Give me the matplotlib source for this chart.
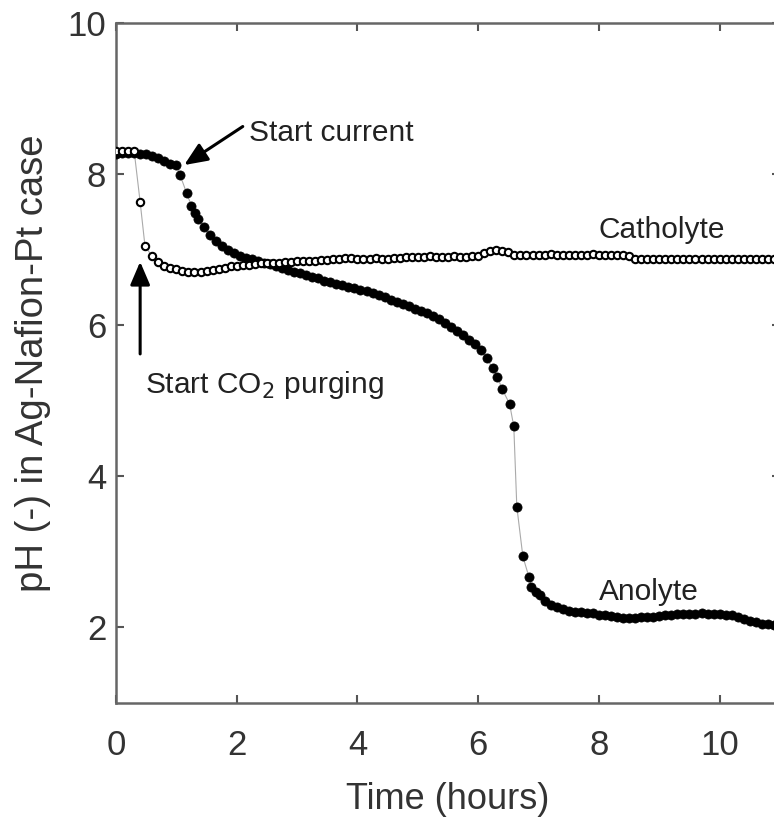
import matplotlib
matplotlib.use("Agg")
import matplotlib.pyplot as plt

plt.rcParams['font.family'] = ['Liberation Sans', 'DejaVu Sans']

# Catholyte (open circles)
cath_t = [0.0, 0.1, 0.2, 0.3, 0.4, 0.48, 0.6, 0.7, 0.8, 0.9, 1.0, 1.1, 1.2, 1.3, 1.4,
          1.5, 1.6, 1.7, 1.8, 1.9, 2.0, 2.1, 2.2, 2.3, 2.4, 2.5, 2.6, 2.7, 2.8, 2.9,
          3.0, 3.1, 3.2, 3.3, 3.4, 3.5, 3.6, 3.7, 3.8, 3.9, 4.0, 4.1, 4.2, 4.3, 4.4,
          4.5, 4.6, 4.7, 4.8, 4.9, 5.0, 5.1, 5.2, 5.3, 5.4, 5.5, 5.6, 5.7, 5.8, 5.9,
          6.0, 6.1, 6.2, 6.3, 6.4, 6.5, 6.6, 6.7, 6.8, 6.9, 7.0, 7.1, 7.2, 7.3, 7.4,
          7.5, 7.6, 7.7, 7.8, 7.9, 8.0, 8.1, 8.2, 8.3, 8.4, 8.5, 8.6, 8.7, 8.8, 8.9,
          9.0, 9.1, 9.2, 9.3, 9.4, 9.5, 9.6, 9.7, 9.8, 9.9, 10.0, 10.1, 10.2, 10.3,
          10.4, 10.5, 10.6, 10.7, 10.8, 10.9, 11.0]
cath_ph = [8.30, 8.31, 8.30, 8.31, 7.63, 7.05, 6.91, 6.84, 6.79, 6.76, 6.74, 6.72, 6.70, 6.70, 6.71,
           6.72, 6.73, 6.75, 6.76, 6.78, 6.79, 6.80, 6.80, 6.81, 6.82, 6.82, 6.83, 6.83, 6.84, 6.84,
           6.85, 6.85, 6.85, 6.85, 6.86, 6.86, 6.87, 6.88, 6.89, 6.89, 6.88, 6.88, 6.88, 6.89, 6.88,
           6.88, 6.89, 6.89, 6.90, 6.90, 6.90, 6.90, 6.91, 6.90, 6.90, 6.90, 6.91, 6.90, 6.90, 6.91,
           6.91, 6.96, 6.98, 6.99, 6.98, 6.97, 6.93, 6.93, 6.93, 6.93, 6.93, 6.93, 6.94, 6.93, 6.93,
           6.93, 6.93, 6.93, 6.93, 6.94, 6.93, 6.93, 6.93, 6.93, 6.93, 6.92, 6.87, 6.87, 6.87, 6.87,
           6.87, 6.87, 6.87, 6.87, 6.87, 6.87, 6.87, 6.87, 6.87, 6.87, 6.87, 6.87, 6.87, 6.87,
           6.87, 6.87, 6.87, 6.87, 6.87, 6.87, 6.87]

# Anolyte (filled dots)
ano_t = [0.0, 0.1, 0.2, 0.3, 0.4, 0.5, 0.6, 0.7, 0.8, 0.9, 1.0, 1.06, 1.17, 1.25, 1.31,
         1.36, 1.45, 1.55, 1.65, 1.75, 1.85, 1.95, 2.05, 2.15, 2.25, 2.35, 2.45, 2.55, 2.65,
         2.75, 2.85, 2.95, 3.05, 3.15, 3.25, 3.35, 3.45, 3.55, 3.65, 3.75, 3.85, 3.95, 4.05,
         4.15, 4.25, 4.35, 4.45, 4.55, 4.65, 4.75, 4.85, 4.95, 5.05, 5.15, 5.25, 5.35, 5.45,
         5.55, 5.65, 5.75, 5.85, 5.95, 6.05, 6.14, 6.24, 6.32, 6.40, 6.52, 6.59, 6.64, 6.74,
         6.84, 6.88, 6.95, 7.02, 7.10, 7.2, 7.3, 7.4, 7.5, 7.6, 7.7, 7.8, 7.9, 8.0, 8.1, 8.2,
         8.3, 8.4, 8.5, 8.6, 8.7, 8.8, 8.9, 9.0, 9.1, 9.2, 9.3, 9.4, 9.5, 9.6, 9.7, 9.8, 9.9,
         10.0, 10.1, 10.2, 10.3, 10.4, 10.5, 10.6, 10.7, 10.8, 10.9, 11.0]
ano_ph = [8.27, 8.28, 8.28, 8.28, 8.27, 8.26, 8.24, 8.21, 8.18, 8.14, 8.12, 7.99, 7.75, 7.58, 7.49,
          7.41, 7.30, 7.19, 7.11, 7.05, 7.00, 6.96, 6.92, 6.89, 6.87, 6.85, 6.83, 6.81, 6.78,
          6.76, 6.73, 6.71, 6.69, 6.67, 6.64, 6.62, 6.59, 6.57, 6.55, 6.53, 6.51, 6.49, 6.47,
          6.45, 6.42, 6.40, 6.37, 6.34, 6.31, 6.28, 6.25, 6.22, 6.19, 6.16, 6.12, 6.08, 6.03,
          5.98, 5.93, 5.87, 5.81, 5.75, 5.67, 5.56, 5.43, 5.31, 5.15, 4.96, 4.66, 3.60, 2.94,
          2.67, 2.54, 2.47, 2.43, 2.35, 2.30, 2.27, 2.24, 2.22, 2.21, 2.20, 2.19, 2.19, 2.17, 2.16, 2.15,
          2.14, 2.13, 2.13, 2.13, 2.14, 2.14, 2.14, 2.15, 2.16, 2.17, 2.18, 2.18, 2.18, 2.18, 2.19, 2.18, 2.18,
          2.18, 2.17, 2.16, 2.14, 2.11, 2.09, 2.07, 2.05, 2.04, 2.03, 2.03]

x_ticks = [0, 2, 4, 6, 8, 10]
y_ticks = [2, 4, 6, 8, 10]

fig = plt.figure(figsize=(7.74, 8.18), dpi=100)
ax = fig.add_axes([116/774, 115/818, 664/774, 680/818])

ax.plot(cath_t, cath_ph, '-', color='#aaaaaa', lw=0.8, zorder=1)
ax.plot(ano_t, ano_ph, '-', color='#aaaaaa', lw=0.8, zorder=1)
ax.plot(ano_t, ano_ph, 'o', ms=6.6, mfc='black', mec='black', mew=0.5, zorder=3)
ax.plot(cath_t, cath_ph, 'o', ms=5.3, mfc='white', mec='black', mew=1.5, zorder=4)

ax.set_xlim(0, 11)
ax.set_ylim(1, 10)
ax.set_xticks(x_ticks)
ax.set_yticks(y_ticks)
ax.tick_params(direction='in', length=6, width=1.5, colors='#555555',
               labelcolor='#333333', labelsize=25, top=True, right=True)
ax.tick_params(axis='x', pad=19)
ax.tick_params(axis='y', pad=7)
for s in ax.spines.values():
    s.set_color('#666666')
    s.set_linewidth(1.8)

ax.set_xlabel('Time (hours)', fontsize=26, color='#333333', labelpad=14)
ax.set_ylabel('pH (-) in Ag-Nafion-Pt case', fontsize=27.5, color='#333333', labelpad=12)

tc = '#222222'
arrow_kw = dict(arrowstyle='-|>,head_length=1.4,head_width=0.6',
                color='black', lw=2.2, shrinkA=0, shrinkB=0)
ax.text(2.2, 8.54, 'Start current', fontsize=21.5, color=tc, va='center', ha='left')
ax.annotate('', xy=(1.13, 8.12), xytext=(2.1, 8.63), arrowprops=arrow_kw)
ax.text(0.48, 5.21, 'Start CO$_2$ purging', fontsize=21.5, color=tc, va='center', ha='left')
ax.annotate('', xy=(0.40, 6.84), xytext=(0.40, 5.62), arrowprops=arrow_kw)
ax.text(8.0, 7.26, 'Catholyte', fontsize=21.5, color=tc, va='center', ha='left')
ax.text(8.0, 2.47, 'Anolyte', fontsize=21.5, color=tc, va='center', ha='left')

fig.savefig('out.png', dpi=100)
